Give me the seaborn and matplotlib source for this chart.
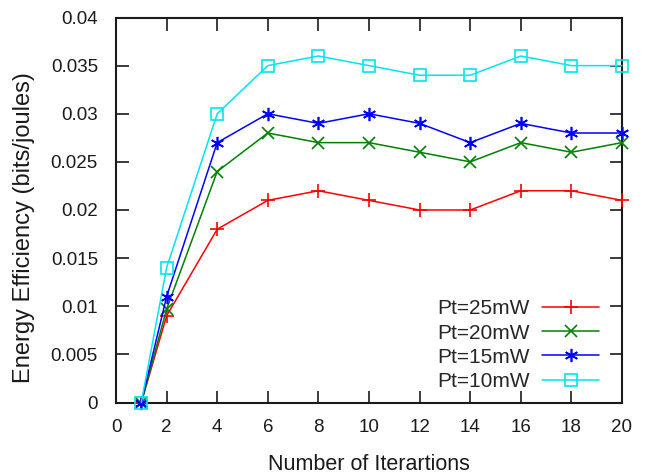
import matplotlib
matplotlib.use("Agg")
import matplotlib.pyplot as plt
import seaborn as sns
import pandas as pd
from matplotlib.lines import Line2D

iterations = [1, 2, 4, 6, 8, 10, 12, 14, 16, 18, 20]
pt25 = [0, 0.009, 0.018, 0.021, 0.022, 0.021, 0.020, 0.020, 0.022, 0.022, 0.021]
pt20 = [0, 0.0097, 0.024, 0.028, 0.027, 0.027, 0.026, 0.025, 0.027, 0.026, 0.027]
pt15 = [0, 0.011, 0.027, 0.030, 0.029, 0.030, 0.029, 0.027, 0.029, 0.028, 0.028]
pt10 = [0, 0.014, 0.030, 0.035, 0.036, 0.035, 0.034, 0.034, 0.036, 0.035, 0.035]
series_names = ["Pt=25mW", "Pt=20mW", "Pt=15mW", "Pt=10mW"]
x_ticks = [0, 2, 4, 6, 8, 10, 12, 14, 16, 18, 20]
y_ticks = [0, 0.005, 0.01, 0.015, 0.02, 0.025, 0.03, 0.035, 0.04]
y_tick_labels = ["0", "0.005", "0.01", "0.015", "0.02", "0.025", "0.03", "0.035", "0.04"]

sns.set_style("ticks")
plt.rcParams['font.family'] = ['Liberation Sans', 'DejaVu Sans']

colors = {"Pt=25mW": "#ff0000", "Pt=20mW": "#008000", "Pt=15mW": "#0000ff", "Pt=10mW": "#00e5ee"}
markers = {"Pt=25mW": "+", "Pt=20mW": "x", "Pt=15mW": (6, 2, 0), "Pt=10mW": "s"}
msizes = {"Pt=25mW": 10, "Pt=20mW": 9, "Pt=15mW": 9.5, "Pt=10mW": 9}

fig = plt.figure(figsize=(6.48, 4.76), dpi=100)
ax = fig.add_axes([116 / 648, 1 - 402.5 / 476, 506 / 648, 385 / 476])

handles = []
for name, vals in zip(series_names, [pt25, pt20, pt15, pt10]):
    df = pd.DataFrame({"Iterations": iterations, "Efficiency": vals})
    mk = markers[name]
    kw = dict(marker=mk, markersize=msizes[name], markeredgewidth=1.2,
              markeredgecolor=colors[name])
    if mk == "s":
        kw["markerfacecolor"] = "none"
    sns.lineplot(data=df, x="Iterations", y="Efficiency", color=colors[name],
                 linewidth=1.1, ax=ax, clip_on=False, zorder=3, **kw)
    handles.append(Line2D([0], [0], color=colors[name], linewidth=1.1, **kw))

ax.legend(handles, series_names, loc="lower right", frameon=False, markerfirst=False,
          fontsize=15, handlelength=2.75, handletextpad=0.6, labelspacing=0.25,
          borderpad=0, borderaxespad=0, bbox_to_anchor=(0.955, 0.03))

ax.set_xlim(0, 20)
ax.set_ylim(0, 0.04)
ax.set_xticks(x_ticks)
ax.set_yticks(y_ticks)
ax.set_yticklabels(y_tick_labels)
ax.tick_params(direction="in", top=True, right=True, length=9, width=1.2,
               labelsize=13.5, colors="#1a1a1a", labelcolor="#1a1a1a")
ax.tick_params(axis="y", pad=13)
ax.tick_params(axis="x", pad=12)
for sp in ax.spines.values():
    sp.set_visible(True)
    sp.set_linewidth(1.5)
    sp.set_color("#1a1a1a")
ax.set_xlabel("Number of Iterartions", fontsize=15.5, color="#1a1a1a")
ax.set_ylabel("Energy Efficiency (bits/joules)", fontsize=17, color="#1a1a1a")
ax.xaxis.set_label_coords(0.5, (402.5 - 454) / 385)
ax.yaxis.set_label_coords((35 - 116) / 506, (402.5 - 228) / 385)

fig.savefig("out.png", dpi=100)
